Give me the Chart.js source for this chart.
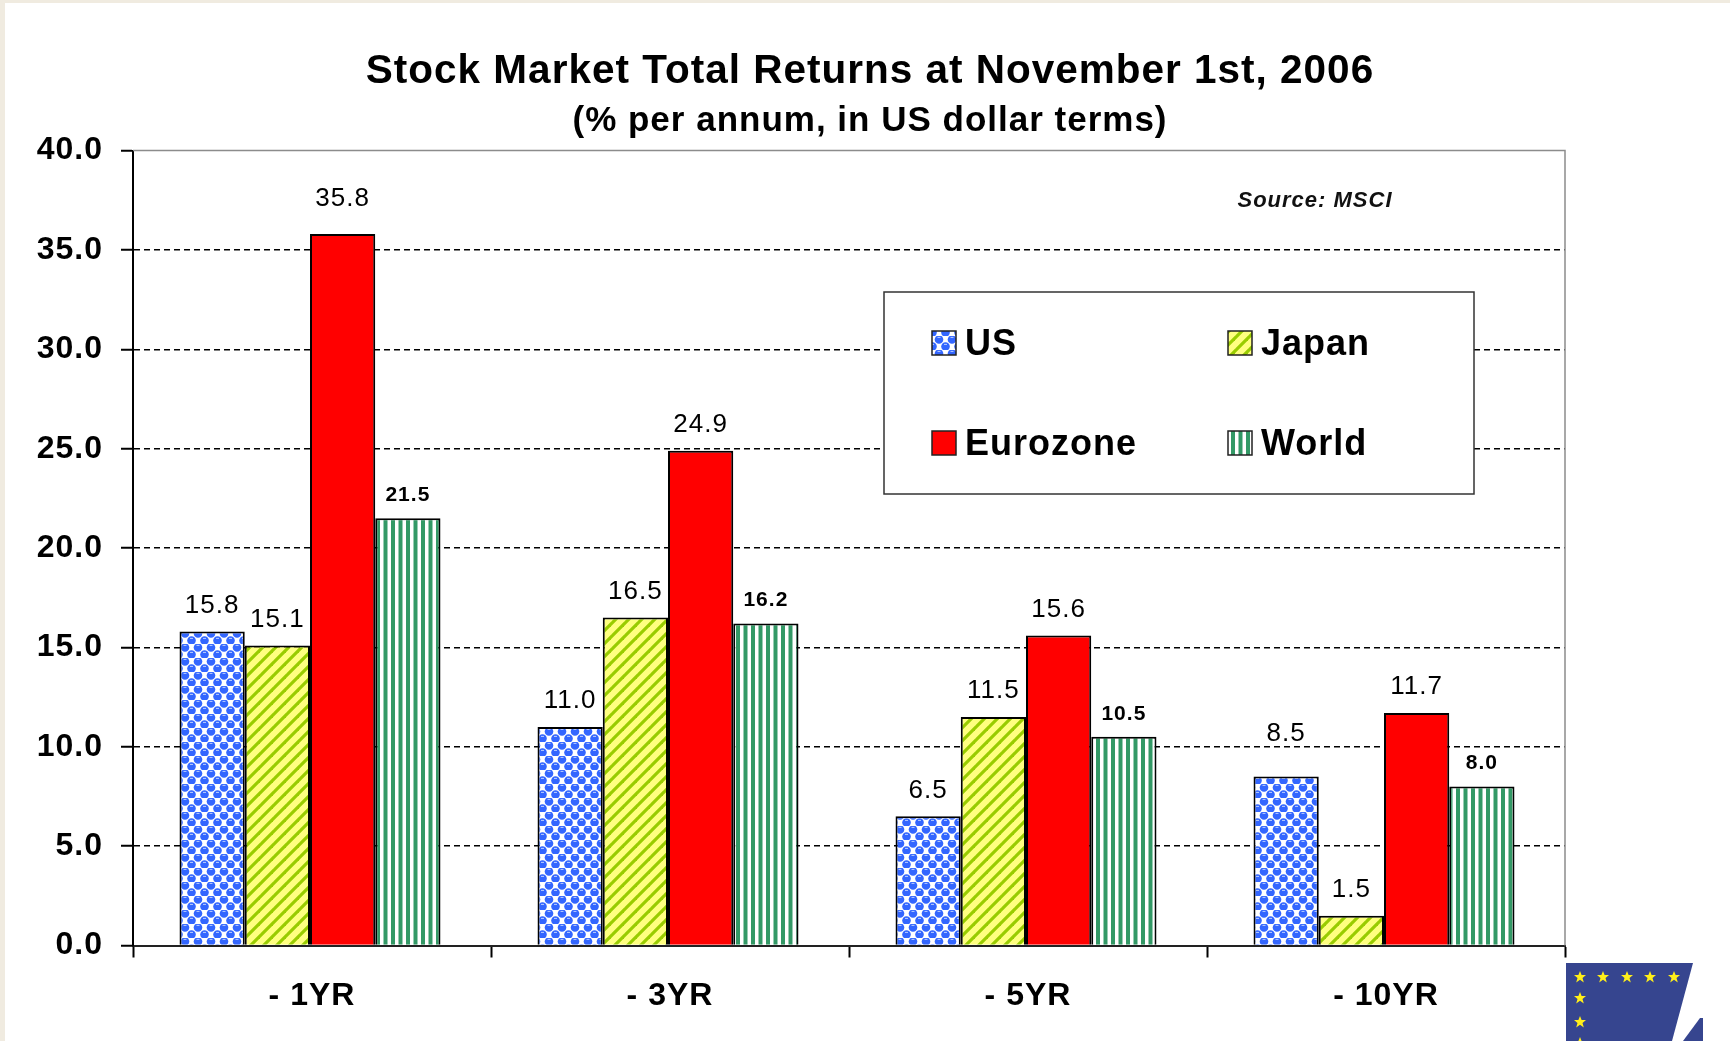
<!DOCTYPE html>
<html>
<head>
<meta charset="utf-8">
<title>Stock Market Total Returns</title>
<script src="https://cdn.jsdelivr.net/npm/chart.js@4"></script>
<style>
  html, body { margin: 0; padding: 0; width: 1730px; height: 1041px; overflow: hidden; background: #f0ebe0; }
  #panel { position: absolute; left: 5px; top: 3px; right: 0; bottom: 0; background: #fff; }
  #trendChart { position: absolute; left: 0; top: 0; }
  #logo { position: absolute; left: 1560px; top: 960px; }
</style>
</head>
<body>
<div id="panel"></div>
<canvas id="trendChart" width="1730" height="1041"></canvas>
<svg id="logo" width="170" height="81" viewBox="1560 960 170 81">
  <defs><polygon id="star" points="0,-6 1.6,-2 6,-2 2.5,1 3.8,5.5 0,2.8 -3.8,5.5 -2.5,1 -6,-2 -1.6,-2" fill="#ffef1a"/></defs>
  <polygon points="1566,963 1693,963 1672,1041 1566,1041" fill="#36458f"/>
  <polygon points="1700,1018 1703,1018 1703,1041 1683,1041" fill="#36458f"/>
  <use href="#star" x="1580" y="977"/><use href="#star" x="1603" y="977"/><use href="#star" x="1627" y="977"/>
  <use href="#star" x="1650" y="977"/><use href="#star" x="1674" y="977"/>
  <use href="#star" x="1580" y="998"/><use href="#star" x="1580" y="1022"/><use href="#star" x="1580" y="1043"/>
</svg>
<script>
// === DATA ===
const categories = ['- 1YR', '- 3YR', '- 5YR', '- 10YR'];
const seriesNames = ['US', 'Japan', 'Eurozone', 'World'];
const usValues = [15.8, 11.0, 6.5, 8.5];
const japanValues = [15.1, 16.5, 11.5, 1.5];
const eurozoneValues = [35.8, 24.9, 15.6, 11.7];
const worldValues = [21.5, 16.2, 10.5, 8.0];

const FONT = '"Liberation Sans", Arial, sans-serif';

// === PATTERN FILLS ===
function tile(w, h, draw) {
  const c = document.createElement('canvas');
  c.width = w;
  c.height = h;
  draw(c.getContext('2d'));
  return document.createElement('canvas').getContext('2d').createPattern(c, 'repeat');
}

const bubbleFill = tile(13, 14, (g) => {
  g.fillStyle = '#fff';
  g.fillRect(0, 0, 13, 14);
  [[3, 3.5], [9.5, 10.5], [-3.5, 10.5], [16, 3.5]].forEach(([x, y]) => {
    g.fillStyle = '#3366ff';
    g.beginPath();
    g.arc(x, y, 4.3, 0, Math.PI * 2);
    g.fill();
    g.fillStyle = '#b9ccff';
    g.fillRect(x - 1.5, y - 2.6, 3, 1);
  });
});

const hatchFill = tile(13, 13, (g) => {
  g.fillStyle = '#ffff80';
  g.fillRect(0, 0, 13, 13);
  g.strokeStyle = '#99cc00';
  g.lineWidth = 3.2;
  [[-6, 6, 6, -6], [0, 13, 13, 0], [6, 20, 20, 6]].forEach(([a, b, c, d]) => {
    g.beginPath();
    g.moveTo(a, b);
    g.lineTo(c, d);
    g.stroke();
  });
});

const stripeFill = tile(15, 4, (g) => {
  g.fillStyle = '#fff';
  g.fillRect(0, 0, 15, 4);
  g.fillStyle = '#339966';
  g.fillRect(1, 0, 4, 4);
  g.fillRect(8.5, 0, 4, 4);
});

// === CHART EXTRAS ===
const seriesSetup = [
  { values: usValues, fill: bubbleFill },
  { values: japanValues, fill: hatchFill },
  { values: eurozoneValues, fill: '#ff0000' },
  { values: worldValues, fill: stripeFill }
];

// the reference type runs a little wide
const wideText = {
  id: 'wideText',
  beforeDraw(chart) {
    chart.ctx.letterSpacing = '1px';
  }
};

// the title blocks are centred over the picture, not over the whole canvas
const titleShift = {
  id: 'titleShift',
  afterLayout(chart) {
    chart.boxes.forEach((b) => {
      if (b.options && b.options.text) {
        b.left = 0;
        b.right = 1740;
      }
    });
  }
};

// bar groups sit slightly left of the category centre in the reference
const barNudge = {
  id: 'barNudge',
  afterDatasetsUpdate(chart) {
    chart.data.datasets.forEach((ds, i) => {
      chart.getDatasetMeta(i).data.forEach((bar) => { bar.x -= 2; });
    });
  }
};

const plotFrame = {
  id: 'plotFrame',
  beforeDatasetsDraw(chart) {
    const { ctx, chartArea: a } = chart;
    ctx.save();
    ctx.strokeStyle = '#8c8c8c';
    ctx.lineWidth = 1.5;
    ctx.beginPath();
    ctx.moveTo(a.left, a.top);
    ctx.lineTo(a.right, a.top);
    ctx.lineTo(a.right, a.bottom);
    ctx.stroke();
    ctx.restore();
  }
};

const barLabels = {
  id: 'barLabels',
  afterDatasetsDraw(chart, args, opts) {
    const { ctx } = chart;
    ctx.save();
    ctx.textAlign = 'center';
    ctx.textBaseline = 'middle';
    ctx.fillStyle = '#000';
    chart.data.datasets.forEach((ds, i) => {
      const small = i === opts.smallSeries;
      ctx.font = small ? 'bold 21px ' + FONT : '26px ' + FONT;
      chart.getDatasetMeta(i).data.forEach((bar, j) => {
        const lift = opts.lifts[i + ':' + j] || (small ? opts.smallLift : opts.lift);
        ctx.fillText(ds.data[j].toFixed(1), bar.x, bar.y - lift);
      });
    });
    ctx.restore();
  }
};

const boxLegend = {
  id: 'boxLegend',
  afterDatasetsDraw(chart, args, opts) {
    const { ctx } = chart;
    const b = opts.box;
    ctx.save();
    ctx.fillStyle = '#fff';
    ctx.strokeStyle = '#333';
    ctx.lineWidth = 1.5;
    ctx.fillRect(b.x, b.y, b.w, b.h);
    ctx.strokeRect(b.x, b.y, b.w, b.h);
    ctx.font = 'bold 36px ' + FONT;
    ctx.textBaseline = 'middle';
    chart.data.datasets.forEach((ds, i) => {
      const x = opts.cols[i % 2];
      const y = opts.rows[Math.floor(i / 2)];
      ctx.fillStyle = ds.backgroundColor;
      ctx.fillRect(x, y - 12, 24, 24);
      ctx.strokeStyle = '#222';
      ctx.lineWidth = 1.5;
      ctx.strokeRect(x, y - 12, 24, 24);
      ctx.fillStyle = '#000';
      ctx.fillText(ds.label, x + 33, y + 2);
    });
    ctx.restore();
    // source note sits in the top right of the plot
    ctx.save();
    ctx.font = 'italic bold 22px ' + FONT;
    ctx.textAlign = 'center';
    ctx.textBaseline = 'middle';
    ctx.fillStyle = '#111';
    ctx.fillText(opts.source, opts.sourceX, opts.sourceY);
    ctx.restore();
  }
};

// === CHART ===
const ctx = document.getElementById('trendChart');
new Chart(ctx, {
  type: 'bar',
  data: {
    labels: categories,
    datasets: seriesSetup.map((s, i) => ({
      label: seriesNames[i],
      data: s.values,
      backgroundColor: s.fill,
      borderColor: '#000',
      borderWidth: 2,
      barPercentage: 1,
      categoryPercentage: 0.729
    }))
  },
  plugins: [wideText, titleShift, barNudge, plotFrame, barLabels, boxLegend],
  options: {
    responsive: false,
    animation: false,
    layout: { padding: { left: 0, right: 165, top: 0, bottom: 0 } },
    scales: {
      x: {
        afterFit(scale) { scale.height = 95.5; },
        grid: { offset: true, drawOnChartArea: false, tickColor: '#000', tickWidth: 2, tickLength: 12 },
        border: { color: '#222', width: 2 },
        ticks: { color: '#000', padding: 19, maxRotation: 0, font: { family: FONT, weight: 'bold', size: 32 } }
      },
      y: {
        min: 0,
        max: 40,
        afterFit(scale) { scale.width = 133; },
        grid: {
          color: (c) => (c.tick.value > 0 && c.tick.value < 40 ? '#000' : 'transparent'),
          lineWidth: 1.5,
          tickColor: '#000',
          tickWidth: 2,
          tickLength: 12
        },
        border: { color: '#000', width: 2, dash: [6, 4] },
        ticks: {
          stepSize: 5,
          color: '#000',
          padding: 18,
          font: { family: FONT, weight: 'bold', size: 32 },
          callback: (v) => v.toFixed(1)
        }
      }
    },
    plugins: {
      legend: { display: false },
      tooltip: { enabled: false },
      title: {
        display: true,
        text: 'Stock Market Total Returns at November 1st, 2006',
        color: '#000',
        font: { family: FONT, weight: 'bold', size: 40.5 },
        padding: { top: 48, bottom: 4 }
      },
      subtitle: {
        display: true,
        text: '(% per annum, in US dollar terms)',
        color: '#000',
        font: { family: FONT, weight: 'bold', size: 35 },
        padding: { top: 0, bottom: 8 }
      },
      barLabels: { lift: 26, smallLift: 23, smallSeries: 3, lifts: { '2:0': 35, '0:3': 43 } },
      boxLegend: {
        box: { x: 884, y: 292, w: 590, h: 202 },
        cols: [932, 1228],
        rows: [343, 443],
        source: 'Source: MSCI',
        sourceX: 1315,
        sourceY: 201
      }
    }
  }
});
</script>
</body>
</html>
